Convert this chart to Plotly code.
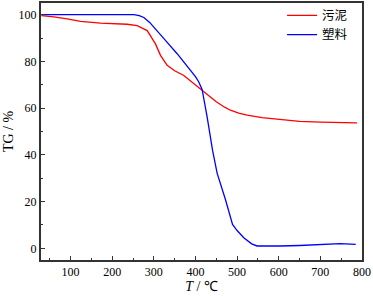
import plotly.graph_objects as go

# 污泥 (sludge)
T_sludge = [30, 60, 92, 124, 172, 236, 260, 284, 304, 316, 332, 350, 372, 392, 411, 430, 450, 470, 484, 504, 524, 560, 604, 650, 700, 750, 788]
TG_sludge = [99.6, 99.1, 98.2, 97.1, 96.4, 95.9, 95.3, 93.2, 87.5, 82.6, 78.3, 76.0, 74.0, 71.2, 68.4, 65.5, 62.7, 60.4, 59.1, 57.9, 57.0, 55.9, 55.0, 54.3, 54.0, 53.8, 53.7]

# 塑料 (plastic)
T_plastic = [30, 100, 200, 252, 265, 276, 290, 308, 330, 356, 380, 400, 408, 416, 428, 441, 452, 472, 489, 500, 516, 535, 548, 570, 604, 650, 700, 748, 785]
TG_plastic = [100.0, 100.0, 100.0, 100.0, 99.6, 98.8, 96.7, 93.2, 88.6, 83.3, 78.0, 73.5, 71.2, 68.0, 56.3, 42.0, 32.2, 20.9, 10.2, 7.6, 4.5, 1.9, 1.0, 0.9, 1.0, 1.2, 1.7, 2.0, 1.7]

x_ticks = [100, 200, 300, 400, 500, 600, 700, 800]
y_ticks = [0, 20, 40, 60, 80, 100]

fig = go.Figure()
fig.add_trace(go.Scatter(x=T_sludge, y=TG_sludge, mode="lines", name="污泥",
                         line=dict(color="#ff0000", width=1.3)))
fig.add_trace(go.Scatter(x=T_plastic, y=TG_plastic, mode="lines", name="塑料",
                         line=dict(color="#0000ff", width=1.3)))

axis_common = dict(
    showgrid=False, zeroline=False, showline=True, linecolor="#333333", linewidth=2,
    mirror=True, ticks="inside", ticklen=4, tickwidth=1.2, tickcolor="#333333",
    tickfont=dict(family="Liberation Serif", size=12, color="#000000"),
    automargin=False, layer="above traces",
)

fig.update_layout(
    width=373, height=296,
    margin=dict(l=41, r=11, t=2, b=36),
    paper_bgcolor="white", plot_bgcolor="white",
    showlegend=True,
    legend=dict(x=0.751, y=1.005, xanchor="left", yanchor="top",
                bgcolor="rgba(0,0,0,0)", borderwidth=0,
                font=dict(family="Noto Sans CJK SC", size=12.5, color="#000000"),
                tracegroupgap=0, itemwidth=30),
    xaxis=dict(range=[29, 800], tickvals=x_ticks,
               minor=dict(dtick=50, tick0=0, ticks="inside", ticklen=2, tickcolor="#333333"),
               ticklabelstandoff=0,
               title=dict(text="<i>T</i> / ℃", standoff=0,
                          font=dict(family="Liberation Serif", size=14, color="#000000")),
               **axis_common),
    yaxis=dict(range=[-5, 105], tickvals=y_ticks,
               minor=dict(dtick=10, tick0=0, ticks="inside", ticklen=2, tickcolor="#333333"),
               title=dict(text="TG / %", standoff=2,
                          font=dict(family="Liberation Serif", size=14, color="#000000")),
               **axis_common),
)

fig.write_html("out.html",
               config={"displayModeBar": False},
               post_script="document.body.style.margin='0';document.body.style.padding='0';")
